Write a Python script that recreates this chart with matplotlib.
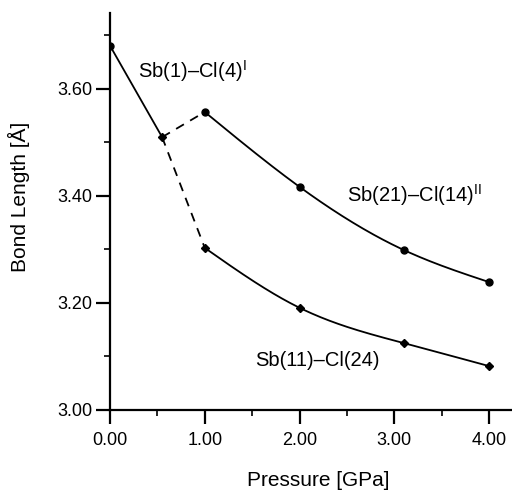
import numpy as np
import matplotlib
matplotlib.use("Agg")
import matplotlib.pyplot as plt
from matplotlib.ticker import MultipleLocator, FormatStrFormatter

plt.rcParams['font.family'] = ['Liberation Sans', 'DejaVu Sans']
plt.rcParams['mathtext.fontset'] = 'custom'
plt.rcParams['mathtext.rm'] = 'Liberation Sans'

# Data
p1 = [0.0, 0.55]
b1 = [3.681, 3.510]
p21 = [1.0, 2.0, 3.1, 4.0]
b21 = [3.557, 3.417, 3.299, 3.239]
p11 = [1.0, 2.0, 3.1, 4.0]
b11 = [3.303, 3.191, 3.125, 3.082]

def smooth(x, y, n=60):
    x = np.asarray(x, float); y = np.asarray(y, float)
    m = len(x)
    h = np.diff(x)
    A = np.zeros((m, m)); r = np.zeros(m)
    A[0, 0] = A[-1, -1] = 1
    for i in range(1, m - 1):
        A[i, i - 1] = h[i - 1]; A[i, i] = 2 * (h[i - 1] + h[i]); A[i, i + 1] = h[i]
        r[i] = 6 * ((y[i + 1] - y[i]) / h[i] - (y[i] - y[i - 1]) / h[i - 1])
    M = np.linalg.solve(A, r)
    xs, ys = [], []
    for i in range(m - 1):
        t = np.linspace(x[i], x[i + 1], n)
        a = (x[i + 1] - t) / h[i]; b = (t - x[i]) / h[i]
        s = a * y[i] + b * y[i + 1] + ((a**3 - a) * M[i] + (b**3 - b) * M[i + 1]) * h[i]**2 / 6
        xs.append(t); ys.append(s)
    return np.concatenate(xs), np.concatenate(ys)

fig = plt.figure(figsize=(5.12, 4.91), dpi=100)
ax = fig.add_axes([0.2148, 0.165, 0.785, 0.8085])

lw = 1.3
ax.plot(p1, b1, color='black', lw=lw)
sx, sy = smooth(p21, b21); ax.plot(sx, sy, color='black', lw=lw)
sx, sy = smooth(p11, b11); ax.plot(sx, sy, color='black', lw=lw)
ax.plot([p1[1], p21[0]], [b1[1], b21[0]], color='black', lw=lw, dashes=(5, 4))
ax.plot([p1[1], p11[0]], [b1[1], b11[0]], color='black', lw=lw, dashes=(5, 4))

ax.plot(p1[:1], b1[:1], 'o', color='black', ms=5)
ax.plot(p1[1:], b1[1:], 'D', color='black', ms=4.5)
ax.plot(p21, b21, 'o', color='black', ms=5)
ax.plot(p11, b11, 'D', color='black', ms=4.5)

fs_ann = 14.5
ax.text(0.30, 3.634, r'Sb(1)–Cl(4)$^{\mathrm{I}}$', fontsize=fs_ann, va='center', ha='left')
ax.text(2.50, 3.402, r'Sb(21)–Cl(14)$^{\mathrm{II}}$', fontsize=fs_ann, va='center', ha='left')
ax.text(1.53, 3.093, 'Sb(11)–Cl(24)', fontsize=fs_ann, va='center', ha='left')

ax.set_xlim(0, 4.24)
ax.set_ylim(3.0, 3.742)
ax.xaxis.set_major_locator(MultipleLocator(1.0))
ax.xaxis.set_minor_locator(MultipleLocator(0.5))
ax.yaxis.set_major_locator(MultipleLocator(0.2))
ax.yaxis.set_minor_locator(MultipleLocator(0.1))
ax.xaxis.set_major_formatter(FormatStrFormatter('%.2f'))
ax.yaxis.set_major_formatter(FormatStrFormatter('%.2f'))

for s in ['top', 'right']:
    ax.spines[s].set_visible(False)
for s in ['left', 'bottom']:
    ax.spines[s].set_linewidth(1.6)
ax.tick_params(which='major', direction='out', length=10, width=1.6, labelsize=13)
ax.tick_params(axis='y', which='major', pad=2.5)
ax.tick_params(axis='x', which='major', pad=6)
ax.tick_params(which='minor', direction='out', length=4.5, width=1.2)

ax.set_xlabel('Pressure [GPa]', fontsize=15)
ax.set_ylabel('Bond Length [Å]', fontsize=15)
ax.xaxis.set_label_coords(0.517, -0.154)
ax.yaxis.set_label_coords(-0.20, 0.537)

fig.savefig('out.png', dpi=100)
